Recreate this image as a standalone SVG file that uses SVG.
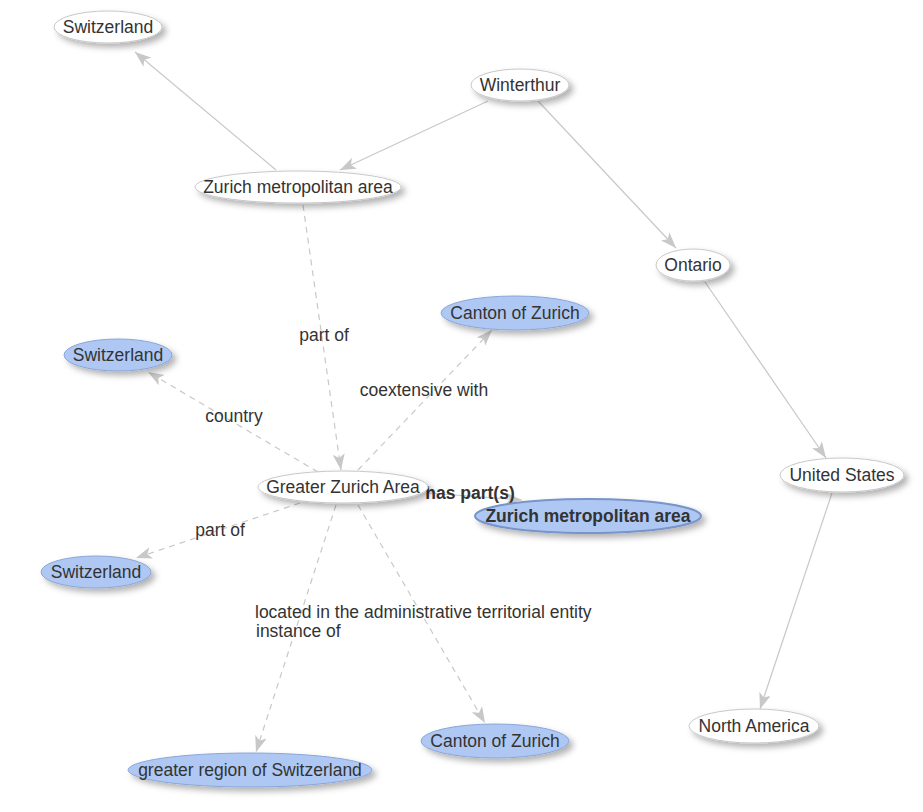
<svg xmlns="http://www.w3.org/2000/svg" width="923" height="812" viewBox="0 0 923 812">
<style>
.n{fill:#fff;stroke:#c8c8c8;stroke-width:1;filter:url(#sh)}
.b{fill:#aec8f3;stroke:#8aa6d8;stroke-width:1;filter:url(#sh)}
.bb{fill:#aec8f3;stroke:#7894c8;stroke-width:2;filter:url(#sh)}
text{font-family:"Liberation Sans",Arial,sans-serif;font-size:17.5px;fill:#333;text-anchor:middle;dominant-baseline:central}
.bold{font-weight:bold}
.e{stroke:#c8c8c8;stroke-width:1.2;fill:none;marker-end:url(#ar)}
.d{stroke-dasharray:6,5}
.st{text-anchor:start}
</style>
<defs>
<filter id="sh" x="-20%" y="-50%" width="150%" height="220%">
<feDropShadow dx="4" dy="4" stdDeviation="3" flood-color="#000" flood-opacity="0.3"/>
</filter>
<marker id="ar" viewBox="0 0 16 12" refX="16" refY="6" markerWidth="16" markerHeight="12" markerUnits="userSpaceOnUse" orient="auto">
<path d="M0,0 L16,6 L0,12 L4,6 Z" fill="#c8c8c8"/>
</marker>
</defs>
<g id="edges">
<line class="e" x1="276" y1="170" x2="135" y2="52"/>
<line class="e" x1="488" y1="101" x2="340" y2="170"/>
<line class="e" x1="538" y1="101" x2="676" y2="248"/>
<line class="e" x1="705" y1="282" x2="826" y2="458"/>
<line class="e" x1="832" y1="493" x2="760" y2="709"/>
<line class="e d" x1="303" y1="205" x2="341" y2="470"/>
<line class="e d" x1="358" y1="470" x2="492" y2="330"/>
<line class="e d" x1="318" y1="472" x2="148" y2="372"/>
<line class="e" x1="428" y1="493" x2="522" y2="500"/>
<line class="e d" x1="300" y1="503" x2="136" y2="558"/>
<line class="e d" x1="336" y1="505" x2="256" y2="752"/>
<line class="e d" x1="358" y1="505" x2="485" y2="723"/>
<text x="324" y="335">part of</text>
<text x="424" y="390">coextensive with</text>
<text x="234" y="416">country</text>
<text x="220" y="530">part of</text>
<text class="st" x="255" y="611.5">located in the administrative territorial entity</text>
<text class="st" x="256" y="630.5">instance of</text>
<text class="bold" x="470" y="493">has part(s)</text>
</g>
<g id="n1"><ellipse class="n" cx="108" cy="27" rx="54" ry="16"/><text x="108" y="27">Switzerland</text></g>
<g id="n2"><ellipse class="n" cx="520" cy="85" rx="49" ry="16"/><text x="520" y="85">Winterthur</text></g>
<g id="n3"><ellipse class="n" cx="298" cy="187" rx="103" ry="16"/><text x="298" y="187">Zurich metropolitan area</text></g>
<g id="n4"><ellipse class="n" cx="693" cy="265" rx="37" ry="16"/><text x="693" y="265">Ontario</text></g>
<g id="n5"><ellipse class="b" cx="515" cy="313" rx="74" ry="17"/><text x="515" y="313">Canton of Zurich</text></g>
<g id="n6"><ellipse class="b" cx="118" cy="355" rx="54" ry="16"/><text x="118" y="355">Switzerland</text></g>
<g id="n7"><ellipse class="n" cx="343" cy="487" rx="85" ry="16"/><text x="343" y="487">Greater Zurich Area</text></g>
<g id="n8"><ellipse class="bb" cx="588" cy="516" rx="113" ry="17"/><text class="bold" x="588" y="516">Zurich metropolitan area</text></g>
<g id="n9"><ellipse class="b" cx="96" cy="572" rx="55" ry="16"/><text x="96" y="572">Switzerland</text></g>
<g id="n10"><ellipse class="b" cx="250" cy="770" rx="122" ry="17"/><text x="250" y="770">greater region of Switzerland</text></g>
<g id="n11"><ellipse class="b" cx="495" cy="741" rx="74" ry="17"/><text x="495" y="741">Canton of Zurich</text></g>
<g id="n12"><ellipse class="n" cx="842" cy="475" rx="62" ry="17"/><text x="842" y="475">United States</text></g>
<g id="n13"><ellipse class="n" cx="754" cy="726" rx="65" ry="17"/><text x="754" y="726">North America</text></g>
</svg>
